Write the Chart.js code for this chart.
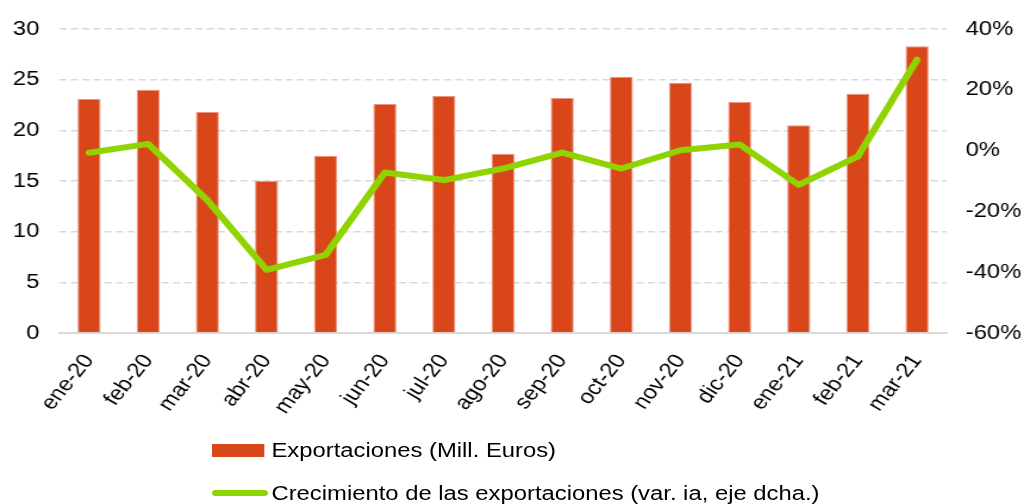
<!DOCTYPE html>
<html>
<head>
<meta charset="utf-8">
<script src="https://cdn.jsdelivr.net/npm/chart.js@4"></script>
<style>
  html, body { margin: 0; padding: 0; background: #fff; overflow: hidden; }
  /* the reference is a horizontally stretched image, so the chart is drawn narrower and stretched */
  #stage { position: relative; width: 860px; height: 504px; transform: scaleX(1.1907); transform-origin: 0 0; }
  #legend { position: absolute; left: 178px; top: 438px; font-family: "Liberation Sans", Arial, sans-serif; font-size: 20px; color: #000; white-space: nowrap; }
  .item { display: flex; align-items: center; height: 24px; margin-bottom: 19px; }
  .sw-bar { width: 44px; height: 13px; background: #D9461A; margin-right: 6px; }
  .sw-line { width: 47px; height: 6px; border-radius: 3px; background: #8FD400; margin-right: 3px; }
</style>
</head>
<body>
<div id="stage">
  <canvas id="chart" width="860" height="504"></canvas>
  <div id="legend">
    <div class="item"><span class="sw-bar"></span><span>Exportaciones (Mill. Euros)</span></div>
    <div class="item"><span class="sw-line"></span><span>Crecimiento de las exportaciones (var. ia, eje dcha.)</span></div>
  </div>
</div>
<script>
// Datos
const months = ['ene-20', 'feb-20', 'mar-20', 'abr-20', 'may-20', 'jun-20', 'jul-20', 'ago-20',
                'sep-20', 'oct-20', 'nov-20', 'dic-20', 'ene-21', 'feb-21', 'mar-21'];
const exportaciones = [23.1, 24.0, 21.8, 15.0, 17.5, 22.6, 23.4, 17.7, 23.2, 25.3, 24.7, 22.8, 20.5, 23.6, 28.3];
const crecimiento = [-0.7, 2.2, -16.3, -39.2, -34.3, -7.2, -9.7, -5.9, -0.7, -5.9, 0.1, 2.0, -11.3, -1.9, 29.9];
const leftTicks = [0, 5, 10, 15, 20, 25, 30];
const rightTicks = [-60, -40, -20, 0, 20, 40];

const FONT = { family: '"Liberation Sans", Arial, sans-serif', size: 20 };

const ctx = document.getElementById('chart').getContext('2d');
const chart = new Chart(ctx, {
    type: 'bar',
    data: {
        labels: months,
        datasets: [
            {
                type: 'line',
                label: 'Crecimiento de las exportaciones (var. ia, eje dcha.)',
                data: crecimiento,
                yAxisID: 'y1',
                borderColor: '#8FD400',
                borderWidth: 6,
                pointRadius: 0,
                tension: 0,
                borderCapStyle: 'round',
                borderJoinStyle: 'round',
                order: 0
            },
            {
                label: 'Exportaciones (Mill. Euros)',
                data: exportaciones,
                yAxisID: 'y',
                backgroundColor: '#D9461A',
                borderColor: '#EA9680',
                borderWidth: { left: 1, right: 1, top: 1, bottom: 0 },
                categoryPercentage: 1,
                barPercentage: 0.39,
                order: 1
            }
        ]
    },
    options: {
        responsive: false,
        animation: false,
        layout: { padding: { top: 27, bottom: 71, left: 0, right: 0 } },
        plugins: { legend: { display: false }, tooltip: { enabled: false } },
        scales: {
            x: {
                grid: { display: false, drawTicks: false },
                border: { display: true, color: '#D9D9D9', width: 2 },
                // steeper here because the stage is stretched sideways
                ticks: { color: '#000', font: FONT, minRotation: 55, maxRotation: 55, padding: 17, autoSkip: false },
                afterFit: s => { s.height = 100; }
            },
            y: {
                position: 'left',
                min: 0, max: 30,
                afterBuildTicks: s => { s.ticks = leftTicks.map(v => ({ value: v })); },
                grid: { color: '#D9D9D9', lineWidth: 1.5, drawTicks: false },
                border: { display: false, dash: [6, 3.5] },
                ticks: { color: '#000', font: FONT, padding: 17 },
                afterFit: s => { s.width = 50; }
            },
            y1: {
                position: 'right',
                min: -60, max: 40,
                afterBuildTicks: s => { s.ticks = rightTicks.map(v => ({ value: v })); },
                grid: { display: false, drawTicks: false },
                border: { display: false },
                ticks: { color: '#000', font: FONT, padding: 16, callback: v => v + '%' },
                afterFit: s => { s.width = 65; }
            }
        }
    }
});
</script>
</body>
</html>
